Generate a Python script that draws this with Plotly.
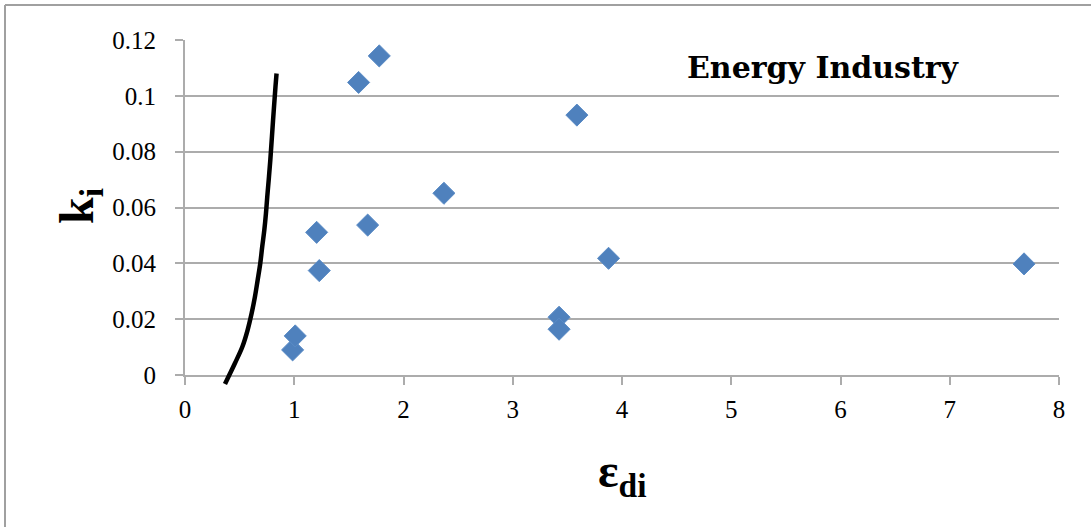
import plotly.graph_objects as go

# Data
eps_di = [0.985, 1.009, 1.205, 1.229, 1.589, 1.778, 1.672, 2.370, 3.424, 3.424, 3.587, 3.877, 7.680]
k_i = [0.0090, 0.0140, 0.0511, 0.0374, 0.1048, 0.1143, 0.0537, 0.0651, 0.0207, 0.0164, 0.0931, 0.0418, 0.0398]

curve_x = [0.366, 0.457, 0.525, 0.573, 0.610, 0.640, 0.665, 0.689, 0.707, 0.726, 0.741,
           0.753, 0.766, 0.781, 0.806, 0.828, 0.838]
curve_y = [-0.0032, 0.0042, 0.0101, 0.0161, 0.0221, 0.0280, 0.0340, 0.0400, 0.0460, 0.0519, 0.0579,
           0.0639, 0.0698, 0.0770, 0.0913, 0.1032, 0.1080]

x_ticks = [0, 1, 2, 3, 4, 5, 6, 7, 8]
y_ticks = [0, 0.02, 0.04, 0.06, 0.08, 0.1, 0.12]
y_tick_labels = ["0", "0.02", "0.04", "0.06", "0.08", "0.1", "0.12"]

W, H = 1091, 527
L, R, T, B = 185, 32, 40, 137
PW, PH = W - L - R, H - T - B
over = 15  # px below the zero line where the curve may extend
ymin2 = -0.12 * over / (PH - over)

GRID = "#acacac"
tick_font = dict(family="Liberation Serif", size=25, color="black")

fig = go.Figure()
fig.add_trace(go.Scatter(
    x=eps_di, y=k_i, mode="markers",
    marker=dict(symbol="diamond", size=17, color="#4F81BD",
                line=dict(color="#5B8CC6", width=1)),
    xaxis="x", yaxis="y", showlegend=False, cliponaxis=False))
fig.add_trace(go.Scatter(
    x=curve_x, y=curve_y, mode="lines",
    line=dict(color="black", width=4.5, shape="spline", smoothing=1),
    xaxis="x", yaxis="y2", showlegend=False))

fig.update_layout(
    width=W, height=H,
    margin=dict(l=L, r=R, t=T, b=B),
    paper_bgcolor="white", plot_bgcolor="rgba(0,0,0,0)",
    xaxis=dict(range=[0, 8], tickvals=x_ticks, ticktext=[str(v) for v in x_ticks],
               showgrid=False, zeroline=False, showline=True, linecolor=GRID, linewidth=2,
               ticks="outside", ticklen=8, tickwidth=2, tickcolor=GRID,
               tickfont=tick_font, ticklabelstandoff=3, anchor="y"),
    yaxis=dict(range=[0, 0.12], domain=[over / PH, 1], tickvals=y_ticks, ticktext=y_tick_labels,
               showgrid=True, gridcolor=GRID, gridwidth=2, zeroline=False,
               showline=True, linecolor=GRID, linewidth=2,
               ticks="outside", ticklen=8, tickwidth=2, tickcolor=GRID,
               tickfont=tick_font, ticklabelstandoff=14, anchor="x"),
    yaxis2=dict(range=[ymin2, 0.12], domain=[0, 1], anchor="x",
                visible=False, showgrid=False, zeroline=False),
    annotations=[
        dict(text="<b>k<sub>i</sub></b>", xref="paper", yref="paper",
             x=(80 - L) / PW, y=(H - B - 206) / PH, textangle=-90,
             showarrow=False, xanchor="center", yanchor="middle",
             font=dict(family="Liberation Serif", size=48, color="black")),
        dict(text="<b>ε<sub>di</sub></b>", xref="paper", yref="paper",
             x=(622 - L) / PW, y=(H - B - 474) / PH,
             showarrow=False, xanchor="center", yanchor="middle",
             font=dict(family="Liberation Serif", size=48, color="black")),
        dict(text="<b>Energy Industry</b>", xref="paper", yref="paper",
             x=(823 - L) / PW, y=(H - B - 68) / PH,
             showarrow=False, xanchor="center", yanchor="middle",
             font=dict(family="DejaVu Serif", size=30, color="black")),
    ],
    shapes=[
        dict(type="line", xref="paper", yref="paper",
             x0=(5 - L) / PW, x1=(W + 10 - L) / PW,
             y0=(H - B - 5) / PH, y1=(H - B - 5) / PH,
             line=dict(color="#a0a0a0", width=2)),
        dict(type="line", xref="paper", yref="paper",
             x0=(5 - L) / PW, x1=(5 - L) / PW,
             y0=(H - B - 5) / PH, y1=(H - B - H - 10) / PH,
             line=dict(color="#a0a0a0", width=2)),
    ],
)

fig.write_html("out.html", config={"displayModeBar": False},
               post_script="document.body.style.margin='0';document.body.style.overflow='hidden';")
